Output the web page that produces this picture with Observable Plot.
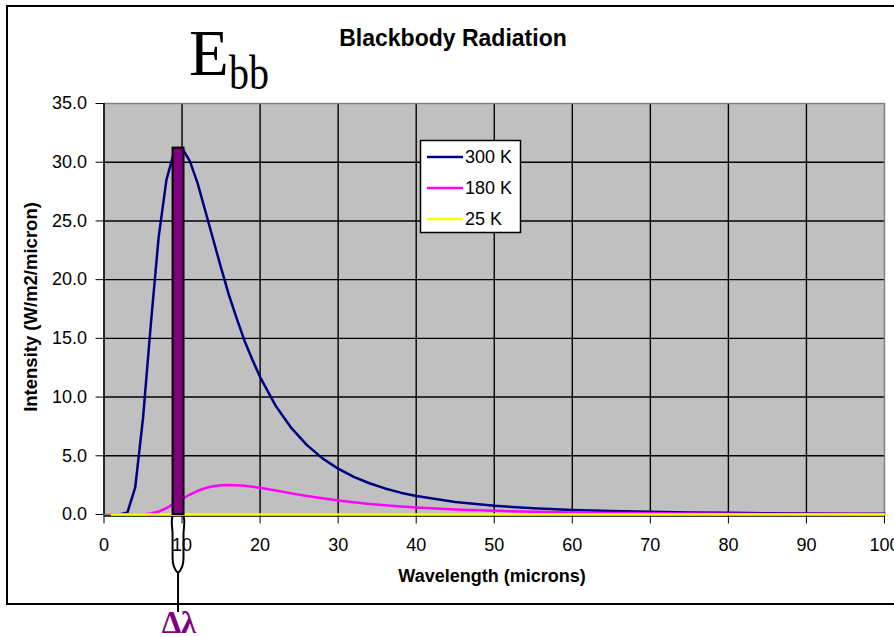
<!DOCTYPE html>
<html><head><meta charset="utf-8">
<script src="https://cdn.jsdelivr.net/npm/d3@7"></script>
<script src="https://cdn.jsdelivr.net/npm/@observablehq/plot@0.6"></script>
<style>html,body{margin:0;padding:0;background:#fff;overflow:hidden}#chart svg{display:block}</style>
</head><body><div id="chart"></div>
<script>
// ---- data ----
const wavelength = [1,2,3,4,5,6,7,8,9,10,11,12,13,14,15,16,17,18,19,20,22,24,26,28,30,32,34,36,38,40,45,50,55,60,65,70,75,80,85,90,95,100];
const intensity300K = [0,0,0.17,2.3,8.2,16.2,23.6,28.5,30.9,31.2,30.1,28.2,25.8,23.4,21.0,18.7,16.7,14.8,13.2,11.7,9.25,7.37,5.91,4.78,3.90,3.21,2.66,2.22,1.86,1.58,1.06,0.74,0.53,0.39,0.30,0.23,0.18,0.14,0.11,0.09,0.07,0.06];
const intensity180K = [0,0,0,0,0,0.08,0.25,0.54,0.92,1.32,1.7,2.02,2.25,2.4,2.49,2.52,2.5,2.44,2.36,2.27,2.05,1.8,1.58,1.38,1.19,1.04,0.9,0.78,0.68,0.59,0.43,0.31,0.23,0.17,0.13,0.10,0.08,0.07,0.05,0.04,0.04,0.03];
const intensity25K = [0,0,0,0,0,0,0,0,0,0,0,0,0,0,0,0,0,0,0,0,0,0,0,0,0,0,0,0,0,0,0,0,0,0,0,0,0,0,0,0,0,0];
const seriesNames = ["300 K","180 K","25 K"];
const seriesColors = ["#000080","#ff00ff","#ffff00"];
const xTicks = [0,10,20,30,40,50,60,70,80,90,100];
const yTicks = [0,5,10,15,20,25,30,35];
const xGrid = [10,20,30,40,50,60,70,80,90];
const yGrid = [5,10,15,20,25,30];
const bandStart = [8.85];
const bandEnd = [10.25];
const bandTop = [31.2];

const seriesValues = [intensity300K, intensity180K, intensity25K];
const rows = [];
seriesNames.forEach((s, k) => wavelength.forEach((w, i) => rows.push({s, w, v: seriesValues[k][i]})));
const band = bandStart.map((a, i) => ({x1: a, x2: bandEnd[i], top: bandTop[i]}));

const chart = Plot.plot({
  width: 894, height: 637,
  marginLeft: 103.5, marginRight: 10, marginTop: 103, marginBottom: 123,
  style: {fontFamily: "'Liberation Sans', Arial, sans-serif", fontSize: "18px", background: "#fff", color: "#000", overflow: "visible"},
  x: {domain: [0, 100]},
  y: {domain: [0, 35]},
  color: {domain: seriesNames, range: seriesColors},
  marks: [
    Plot.frame({fill: "#c0c0c0"}),
    Plot.ruleX(xGrid, {stroke: "#000", strokeWidth: 1.4}),
    Plot.ruleY(yGrid, {stroke: "#000", strokeWidth: 1.4}),
    Plot.frame({stroke: "#808080", strokeWidth: 1.5}),
    Plot.ruleY([0], {stroke: "#000", strokeWidth: 1.5, dy: 1.5}),
    Plot.ruleX([0], {stroke: "#000", strokeWidth: 1.5}),
    Plot.line(rows, {x: "w", y: "v", z: "s", stroke: "s", strokeWidth: 2.5}),
    Plot.rect(band, {x1: "x1", x2: "x2", y1: 0, y2: "top", fill: "#800080", stroke: "#000", strokeWidth: 2}),
    Plot.axisY({ticks: yTicks, tickFormat: d => d.toFixed(1), tickSize: 8, tickPadding: 9, label: null, fontSize: 18}),
    Plot.axisX({ticks: xTicks, tickFormat: d => String(d), tickSize: 8, tickPadding: 14, label: null, fontSize: 18, dy: 1.5})
  ]
});
document.getElementById("chart").appendChild(chart);

const svg = d3.select(chart);
const X = v => chart.scale("x").apply(v);
const Y = v => chart.scale("y").apply(v);
const sans = "'Liberation Sans', Arial, sans-serif";
const serif = "'Liberation Serif', 'Times New Roman', serif";

// outer chart border
svg.append("rect").attr("x", 7).attr("y", 6).attr("width", 900).attr("height", 598)
  .attr("fill", "none").attr("stroke", "#000").attr("stroke-width", 2);

// title
svg.append("text").attr("x", 453).attr("y", 46).attr("text-anchor", "middle")
  .attr("font-family", sans).attr("font-weight", "bold").attr("font-size", 23)
  .text("Blackbody Radiation");

// E_bb
const eb = svg.append("text").attr("font-family", serif).attr("fill", "#000").attr("text-anchor", "start");
eb.append("tspan").attr("x", 189).attr("y", 75).attr("font-size", 65).text("E");
eb.append("tspan").attr("x", 229).attr("y", 89).attr("font-size", 48).attr("textLength", 40).attr("lengthAdjust", "spacingAndGlyphs").text("bb");

// axis titles
svg.append("text").attr("transform", "translate(37,307) rotate(-90)").attr("text-anchor", "middle")
  .attr("font-family", sans).attr("font-weight", "bold").attr("font-size", 18.5)
  .text("Intensity (W/m2/micron)");
svg.append("text").attr("x", 492).attr("y", 582).attr("text-anchor", "middle")
  .attr("font-family", sans).attr("font-weight", "bold").attr("font-size", 18)
  .text("Wavelength (microns)");

// legend
const lg = svg.append("g");
lg.append("rect").attr("x", 420.5).attr("y", 140.5).attr("width", 100).attr("height", 92)
  .attr("fill", "#fff").attr("stroke", "#000").attr("stroke-width", 1.5);
[157, 188, 219].forEach((yy, i) => {
  lg.append("line").attr("x1", 427).attr("x2", 463).attr("y1", yy).attr("y2", yy)
    .attr("stroke", seriesColors[i]).attr("stroke-width", 2.5);
  lg.append("text").attr("x", 465).attr("y", yy).attr("dy", "0.35em").attr("text-anchor", "start")
    .attr("font-family", sans).attr("font-size", 18).attr("fill", "#000")
    .text(seriesNames[i]);
});

// brace under the band
const xl = X(bandStart[0]), xr = X(bandEnd[0]), xc = (xl + xr) / 2, y0 = Y(0) + 2;
svg.append("path")
  .attr("d", `M${xl},${y0} C${xl - 2},${y0 + 6} ${xl},${y0 + 12} ${xl},${y0 + 18} L${xl},${y0 + 42} Q${xl},${y0 + 52} ${xc},${y0 + 57} L${xc},${y0 + 96} M${xc},${y0 + 57} Q${xr},${y0 + 52} ${xr},${y0 + 42} L${xr},${y0 + 18} C${xr},${y0 + 12} ${xr + 2},${y0 + 6} ${xr},${y0}`)
  .attr("fill", "none").attr("stroke", "#000").attr("stroke-width", 2);

svg.append("text").attr("x", xc + 1).attr("y", 633).attr("text-anchor", "middle")
  .attr("font-family", serif).attr("font-weight", "bold").attr("font-size", 31)
  .attr("fill", "#800080").text("Δλ");
</script>
</body></html>
